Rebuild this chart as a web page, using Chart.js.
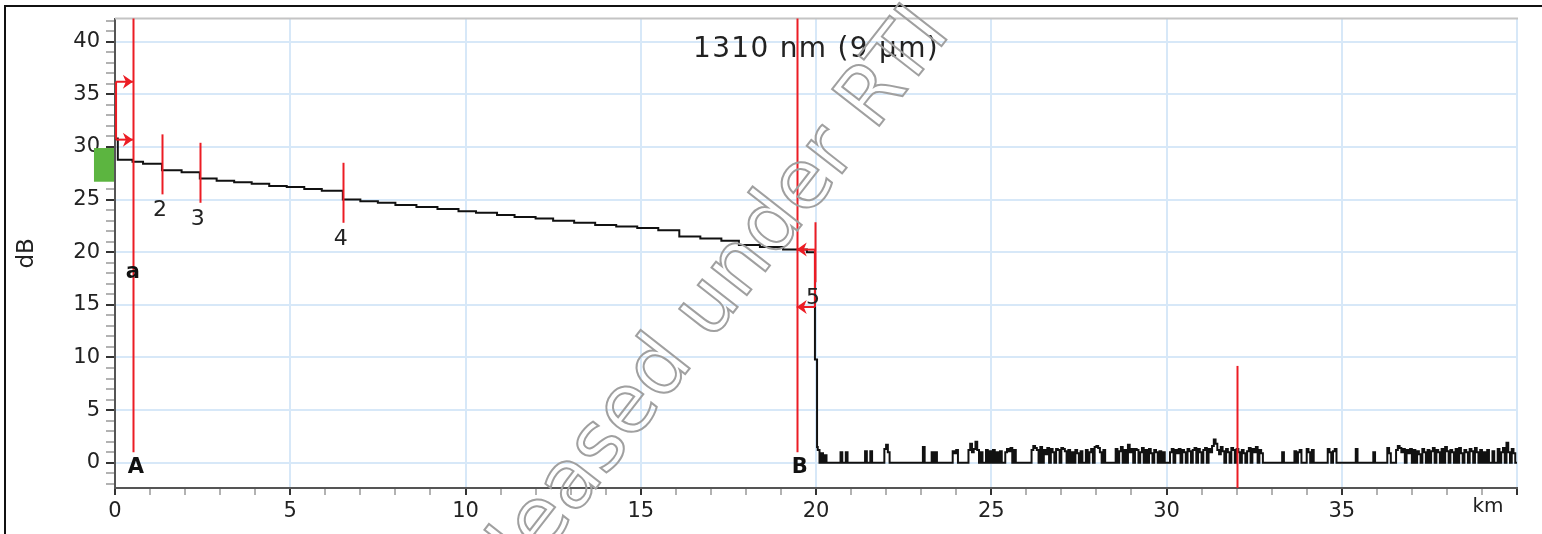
<!DOCTYPE html>
<html lang="en">
<head>
<meta charset="UTF-8">
<title>OTDR 1310 nm</title>
<script src="https://cdn.jsdelivr.net/npm/chart.js"></script>
<style>
  body { margin: 0; background: #fff; }
  #wrap { position: relative; width: 1542px; height: 534px; }
  #frame { position: absolute; left: 4px; top: 5px; right: 0; bottom: 0; border-top: 2px solid #111; border-left: 2px solid #111; }
  canvas { position: absolute; left: 0; top: 0; }
</style>
</head>
<body>
<div id="wrap">
  <div id="frame"></div>
  <canvas id="grafico_otdr" width="1542" height="534"></canvas>
</div>

<script>
  // trace before the fibre end (km / dB), stepped
  const traceKm = [0, 0.08, 0.5, 0.8, 1.34, 1.9, 2.42, 2.9, 3.4, 3.9, 4.4, 4.9, 5.4, 5.9, 6.5,
    7.0, 7.5, 8.0, 8.6, 9.2, 9.8, 10.3, 10.9, 11.4, 12.0, 12.5, 13.1, 13.7, 14.3, 14.9, 15.5,
    16.1, 16.7, 17.3, 17.8, 18.4, 19.06, 19.74, 19.97, 20.03];
  const traceDb = [30.8, 28.8, 28.6, 28.4, 27.8, 27.6, 27.0, 26.8, 26.65, 26.5, 26.3, 26.2, 26.0, 25.85, 25.0,
    24.85, 24.7, 24.5, 24.3, 24.1, 23.9, 23.75, 23.55, 23.35, 23.2, 23.0, 22.8, 22.6, 22.45, 22.3, 22.1,
    21.5, 21.3, 21.1, 20.7, 20.5, 20.25, 20.0, 9.8, 1.5];

  // noise floor after the end, one value every 0.05 km from 20.05 km (one row = 1 km)
  const noiseStartKm = 20.05;
  const noiseStepKm = 0.05;
  const noiseDb = [
    1.2, 0, 0.9, 0, 0.7, 0, 0, 0, 0, 0, 0, 0, 0, 1.0, 0, 0, 1.0, 0, 0, 0,
    0, 0, 0, 0, 0, 0, 0, 1.1, 0, 0, 1.1, 0, 0, 0, 0, 0, 0, 0, 1.3, 1.7,
    1.0, 0, 0, 0, 0, 0, 0, 0, 0, 0, 0, 0, 0, 0, 0, 0, 0, 0, 0, 0,
    1.5, 0, 0, 0, 0, 1.0, 0, 1.0, 0, 0, 0, 0, 0, 0, 0, 0, 0, 1.1, 0.9, 1.2,
    0, 0, 0, 0, 0, 0, 1.2, 1.8, 1.0, 1.3, 2.0, 1.2, 0, 1.0, 0, 0, 1.2, 0, 1.1, 0,
    1.2, 0, 1.0, 0, 1.1, 0, 0, 1.0, 1.3, 1.1, 1.4, 0, 1.2, 0, 0, 0, 0, 0, 0, 0,
    0, 0, 1.2, 1.6, 1.4, 1.2, 0, 1.5, 0, 1.2, 0.8, 1.4, 0, 1.3, 1.0, 0, 1.3, 1.2, 0, 1.4,
    1.3, 1.1, 0, 1.2, 0, 1.0, 0, 1.2, 0.9, 0, 1.1, 0, 0, 1.2, 0, 1.0, 1.3, 0, 1.5, 1.6,
    1.4, 1.0, 0, 1.2, 0, 0, 0, 0, 0, 0, 1.3, 0, 1.1, 1.5, 0, 1.2, 0, 1.7, 1.0, 1.3,
    0, 1.3, 1.2, 0, 1.0, 1.4, 0, 1.2, 0, 1.3, 0.9, 0, 1.2, 1.0, 0, 1.1, 0, 1.0, 0, 0,
    0, 1.0, 1.3, 0, 1.2, 0.9, 1.3, 0, 1.2, 1.0, 0, 1.3, 1.1, 0, 1.2, 1.4, 0, 1.3, 1.0, 0,
    1.2, 1.4, 0, 1.3, 1.0, 1.6, 2.2, 1.8, 1.2, 0.8, 1.5, 1.1, 0, 1.3, 1.0, 0, 1.4, 1.2, 0, 1.3,
    1.0, 0, 1.2, 0.9, 0, 1.1, 1.4, 0, 1.3, 1.0, 1.5, 0, 1.2, 0.9, 0, 0, 0, 0, 0, 0,
    0, 0, 0, 0, 0, 1.0, 0, 0, 0, 0, 0, 0, 1.1, 0, 1.0, 1.2, 0, 0, 0, 1.3,
    1.0, 0, 1.2, 0, 0, 0, 0, 0, 0, 0, 0, 1.3, 1.0, 0, 1.1, 1.3, 0, 0, 0, 0,
    0, 0, 0, 0, 0, 0, 0, 1.3, 0, 0, 0, 0, 0, 0, 0, 0, 0, 1.0, 0, 0,
    0, 0, 0, 0, 0, 1.4, 0.9, 0, 0, 0, 1.2, 1.6, 1.4, 1.0, 1.3, 0, 1.2, 0.9, 1.3, 0,
    1.2, 0, 1.1, 0.8, 0, 1.3, 1.0, 0, 1.2, 0, 1.1, 1.4, 0, 1.2, 1.0, 0, 1.3, 0, 1.5, 1.1,
    0, 1.2, 1.0, 0, 1.3, 0, 1.4, 0.9, 0, 1.2, 1.0, 0, 1.3, 1.1, 0, 1.4, 1.0, 0, 1.2, 0,
    1.0, 0, 1.2, 0, 0, 1.1, 0, 0, 1.3, 0, 1.0, 1.4, 0, 1.9, 1.0, 0, 1.3, 0.9, 0, 0
  ];

  // events
  const eventKm = [1.34, 2.42, 6.5, 19.97];
  const eventDb = [28.35, 27.55, 25.65, 20.0];
  const eventLabels = ['2', '3', '4', '5'];

  // cursors A / B, plus the extra cursor at 32 km
  const cursorKm = [0.51, 19.45];
  const cursorLabels = ['A', 'B'];
  const extraCursorKm = 32;
  const extraCursorTopDb = 9.2;

  // loss brackets (from km, to km, two dB levels)
  const leftSpanKm = [0.03, 0.51];
  const leftSpanDb = [36.2, 30.7];
  const rightSpanKm = [19.97, 19.45];
  const rightSpanDb = [20.25, 14.8];

  // launch level box
  const launchKm = [-0.6, 0];
  const launchDb = [26.7, 29.9];

  const titulo = '1310 nm (9 µm)';

  const pontos = traceKm.map((k, i) => ({ x: k, y: traceDb[i] }));
  noiseDb.forEach((v, i) => {
    pontos.push({ x: Math.round((noiseStartKm + i * noiseStepKm) * 100) / 100, y: v });
  });

  const RED = '#ec1c24';
  const FONT = '"DejaVu Sans", Verdana, sans-serif';

  function seta(ctx, x0, x1, yy) {
    const dir = x1 > x0 ? 1 : -1;
    ctx.beginPath();
    ctx.moveTo(x0, yy);
    ctx.lineTo(x1, yy);
    ctx.stroke();
    ctx.beginPath();
    ctx.moveTo(x1, yy);
    ctx.lineTo(x1 - dir * 10, yy - 7);
    ctx.lineTo(x1 - dir * 7, yy);
    ctx.lineTo(x1 - dir * 10, yy + 7);
    ctx.closePath();
    ctx.fill();
  }

  const extras = {
    id: 'extras',
    beforeDatasetsDraw(chart) {
      const { ctx, chartArea, scales: { x, y } } = chart;
      ctx.save();
      // grey top border of the plot
      ctx.strokeStyle = '#c4c4c4';
      ctx.lineWidth = 2;
      ctx.beginPath();
      ctx.moveTo(chartArea.left, chartArea.top);
      ctx.lineTo(chartArea.right + 1, chartArea.top);
      ctx.stroke();
      // launch box
      ctx.fillStyle = '#5cb540';
      const gx0 = x.getPixelForValue(launchKm[0]);
      const gx1 = x.getPixelForValue(launchKm[1]) - 1;
      const gy0 = y.getPixelForValue(launchDb[1]);
      const gy1 = y.getPixelForValue(launchDb[0]);
      ctx.fillRect(gx0, gy0, gx1 - gx0, gy1 - gy0);
      ctx.restore();
    },
    afterDatasetsDraw(chart) {
      const { ctx, chartArea, scales: { x, y } } = chart;
      ctx.save();
      ctx.strokeStyle = RED;
      ctx.fillStyle = RED;
      ctx.lineWidth = 2;

      // cursors
      cursorKm.forEach((k) => {
        const px = Math.round(x.getPixelForValue(k)) + 0.5;
        ctx.beginPath();
        ctx.moveTo(px, chartArea.top);
        ctx.lineTo(px, y.getPixelForValue(1.0));
        ctx.stroke();
      });
      const ex = Math.round(x.getPixelForValue(extraCursorKm)) + 0.5;
      ctx.beginPath();
      ctx.moveTo(ex, y.getPixelForValue(extraCursorTopDb));
      ctx.lineTo(ex, chartArea.bottom);
      ctx.stroke();

      // event markers
      eventKm.forEach((k, i) => {
        const px = Math.round(x.getPixelForValue(k)) + 0.5;
        const py = y.getPixelForValue(eventDb[i]);
        ctx.beginPath();
        ctx.moveTo(px, py - 30);
        ctx.lineTo(px, py + 30);
        ctx.stroke();
      });

      // brackets
      [[leftSpanKm, leftSpanDb], [rightSpanKm, rightSpanDb]].forEach(([ks, ds]) => {
        const a = x.getPixelForValue(ks[0]);
        const b = x.getPixelForValue(ks[1]);
        const y0 = y.getPixelForValue(ds[0]);
        const y1 = y.getPixelForValue(ds[1]);
        ctx.beginPath();
        ctx.moveTo(a, y0);
        ctx.lineTo(a, y1);
        ctx.stroke();
        seta(ctx, a, b, y0);
        seta(ctx, a, b, y1);
      });

      // labels
      ctx.fillStyle = '#222';
      ctx.textAlign = 'center';
      ctx.textBaseline = 'middle';
      ctx.font = '22px ' + FONT;
      eventKm.forEach((k, i) => {
        const px = x.getPixelForValue(k);
        const py = y.getPixelForValue(eventDb[i]);
        ctx.fillText(eventLabels[i], px - 2, py + 46);
      });
      ctx.fillStyle = '#111';
      ctx.font = 'bold 21px ' + FONT;
      cursorKm.forEach((k, i) => {
        ctx.fillText(cursorLabels[i], x.getPixelForValue(k) + 3, y.getPixelForValue(-0.5));
      });
      ctx.fillText('a', x.getPixelForValue(cursorKm[0]), y.getPixelForValue(18.1));

      // title inside plot
      ctx.fillStyle = '#222';
      ctx.font = '28px ' + FONT;
      ctx.letterSpacing = '1.3px';
      ctx.fillText(titulo, (chartArea.left + chartArea.right) / 2, chartArea.top + 31);
      ctx.letterSpacing = '0px';

      // axis names
      ctx.font = '20px ' + FONT;
      ctx.fillText('km', chartArea.right - 29, chartArea.bottom + 19);
      ctx.font = '23px ' + FONT;
      ctx.translate(27, (chartArea.top + chartArea.bottom) / 2);
      ctx.rotate(-Math.PI / 2);
      ctx.fillText('dB', 0, 0);
      ctx.restore();
    },
    afterDraw(chart) {
      // watermark
      const ctx = chart.ctx;
      ctx.save();
      ctx.translate(465, 656);
      ctx.rotate(-52 * Math.PI / 180);
      ctx.font = '82px ' + FONT;
      ctx.strokeStyle = '#a0a0a0';
      ctx.lineWidth = 2;
      ctx.textAlign = 'left';
      ctx.textBaseline = 'alphabetic';
      ctx.strokeText('Released under RTI', 0, 0);
      ctx.restore();
    }
  };

  const major = (c) => c.tick && Math.abs(c.tick.value % 5) < 1e-6;

  const config = {
    type: 'line',
    data: {
      datasets: [{
        label: 'trace',
        data: pontos,
        borderColor: '#111',
        borderWidth: 2,
        pointRadius: 0,
        stepped: true,
        fill: false
      }]
    },
    options: {
      responsive: false,
      animation: false,
      layout: { padding: { top: 18, right: 25, left: 0, bottom: 0 } },
      plugins: { legend: { display: false }, tooltip: { enabled: false } },
      scales: {
        x: {
          type: 'linear',
          min: 0,
          max: 40,
          afterFit: (s) => { s.height = 46; },
          border: { color: '#555', width: 2 },
          grid: {
            color: (c) => major(c) ? '#d7e8f8' : 'rgba(0,0,0,0)',
            lineWidth: 2,
            tickColor: (c) => major(c) ? '#333' : '#999',
            tickWidth: (c) => major(c) ? 2 : 1.5,
            tickLength: 7
          },
          ticks: {
            stepSize: 1,
            autoSkip: false,
            maxRotation: 0,
            includeBounds: false,
            padding: 4,
            color: '#222',
            font: { family: FONT, size: 21 },
            callback: (v) => (v % 5 === 0 && v < 40) ? v : ''
          }
        },
        y: {
          min: -2.4,
          max: 42.2,
          afterFit: (s) => { s.width = 115; },
          border: { color: '#555', width: 2 },
          grid: {
            color: (c) => major(c) ? '#d7e8f8' : 'rgba(0,0,0,0)',
            lineWidth: 2,
            tickColor: (c) => major(c) ? '#333' : '#999',
            tickWidth: (c) => major(c) ? 2 : 1.5,
            tickLength: 9
          },
          ticks: {
            stepSize: 1,
            autoSkip: false,
            includeBounds: false,
            padding: 6,
            color: '#222',
            font: { family: FONT, size: 21 },
            callback: (v) => v % 5 === 0 ? v : ''
          }
        }
      }
    },
    plugins: [extras]
  };

  const myChart = new Chart(document.getElementById('grafico_otdr'), config);
</script>
</body>
</html>
